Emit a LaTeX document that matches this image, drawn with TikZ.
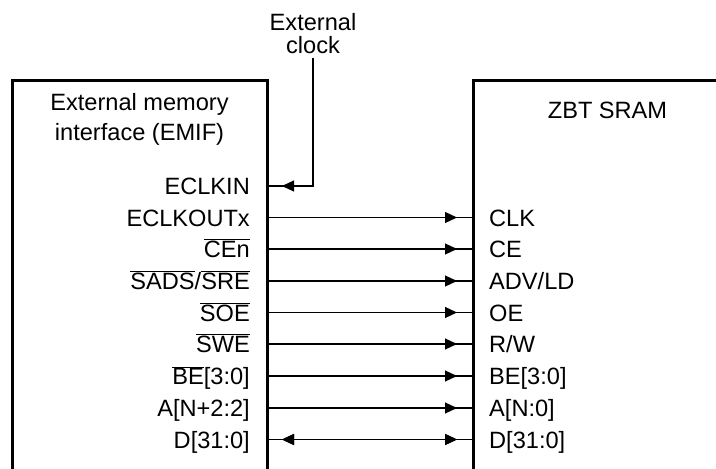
\documentclass[tikz,border=0pt]{standalone}
\usepackage{fontspec}
\setmainfont{Liberation Sans}
\usetikzlibrary{arrows.meta,decorations.markings}
\newcommand{\ovl}[1]{\ensuremath{\overline{\mbox{#1}}}}
\tikzset{
  boxline/.style={line width=3pt, line cap=butt, line join=miter},
  sig/.style={line width=1.2pt},
  lbl/.style={font=\fontsize{23.6}{28}\selectfont, inner sep=0pt},
  lleft/.style={lbl, anchor=base east},
  lright/.style={lbl, anchor=base west},
  arrR/.style={postaction={decorate}, decoration={markings,
     mark=at position -16pt with {\arrow{Triangle[length=12pt,width=11pt]}}}},
  arrL/.style={postaction={decorate}, decoration={markings,
     mark=at position 15pt with {\arrowreversed{Triangle[length=12pt,width=11pt]}}}},
  arrEnd/.style={postaction={decorate}, decoration={markings,
     mark=at position -15pt with {\arrow{Triangle[length=12pt,width=11pt]}}}},
}
\begin{document}
\begin{tikzpicture}[x=1pt,y=-1pt]
\useasboundingbox (0,0) rectangle (716,469);
% boxes (open at bottom / right)
\draw[boxline] (12,470) -- (12,80) -- (267,80) -- (267,470);
\draw[boxline] (473,470) -- (473,80) -- (720,80);
\node[lbl, anchor=base] (emif1) at (139.5,110) {External memory};
\node[lbl, anchor=base] (emif2) at (139.5,140) {interface (EMIF)};
\node[lbl, anchor=base] (zbt) at (607.5,118) {ZBT SRAM};
\node[lbl, anchor=base] (ext1) at (313,30) {External};
\node[lbl, anchor=base] (ext2) at (313,53) {clock};
% rows
\foreach \i/\yy in {1/186,2/217.5,3/249,4/281,5/312.5,6/344,7/376,8/408,9/439.5}{
  \coordinate (l\i) at (267,\yy);
  \coordinate (r\i) at (473,\yy);
}
\coordinate (clk) at (313,58);
\node[lleft] (a1) at ([yshift=-8.5pt]l1 -| 250,0) {ECLKIN};
\node[lleft] (a2) at ([yshift=-8.5pt]l2 -| 250,0) {ECLKOUTx};
\node[lleft] (a3) at ([yshift=-8.5pt]l3 -| 250,0) {\ovl{CEn}};
\node[lleft] (a4) at ([yshift=-8.5pt]l4 -| 250,0) {\ovl{SADS}/\ovl{SRE}};
\node[lleft] (a5) at ([yshift=-8.5pt]l5 -| 250,0) {\ovl{SOE}};
\node[lleft] (a6) at ([yshift=-8.5pt]l6 -| 250,0) {\ovl{SWE}};
\node[lleft] (a7) at ([yshift=-8.5pt]l7 -| 250,0) {\ovl{BE}[3:0]};
\node[lleft] (a8) at ([yshift=-8.5pt]l8 -| 250,0) {A[N+2:2]};
\node[lleft] (a9) at ([yshift=-8.5pt]l9 -| 250,0) {D[31:0]};
\node[lright] (b2) at ([yshift=-8.5pt]r2 -| 489,0) {CLK};
\node[lright] (b3) at ([yshift=-8.5pt]r3 -| 489,0) {CE};
\node[lright] (b4) at ([yshift=-8.5pt]r4 -| 489,0) {ADV/LD};
\node[lright] (b5) at ([yshift=-8.5pt]r5 -| 489,0) {OE};
\node[lright] (b6) at ([yshift=-8.5pt]r6 -| 489,0) {R/W};
\node[lright] (b7) at ([yshift=-8.5pt]r7 -| 489,0) {BE[3:0]};
\node[lright] (b8) at ([yshift=-8.5pt]r8 -| 489,0) {A[N:0]};
\node[lright] (b9) at ([yshift=-8.5pt]r9 -| 489,0) {D[31:0]};
% connectors
\draw[sig, arrEnd] (clk) |- (l1);
\foreach \i in {2,...,8}{ \draw[sig, arrR] (l\i) -- (r\i); }
\draw[sig, arrR, arrL] (l9) -- (r9);
\end{tikzpicture}
\end{document}
